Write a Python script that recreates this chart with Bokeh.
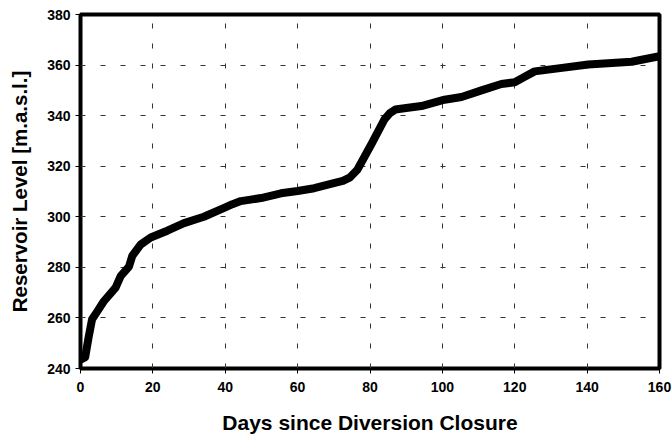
from bokeh.plotting import figure
from bokeh.models import Range1d, FixedTicker
from bokeh.embed import file_html
from bokeh.resources import INLINE

# Data
days = [0, 1.3, 2.2, 3.2, 4.6, 6.4, 9.7, 11.1, 13.4, 14.3, 16.6, 19.4, 24, 28.6,
        34.1, 39.7, 42, 44.3, 47, 49.9, 55.4, 60, 64.6, 70, 72.5, 74.5, 76.5, 80.3,
        84, 85.5, 87, 90, 94.2, 100.6, 105.3, 110.8, 116.3, 120, 122.5, 125.5, 132,
        140.3, 152.3, 160]
level = [243.5, 244.5, 252, 259.5, 262.5, 266.5, 272, 276.5, 280.3, 284.5, 289, 291.8,
         294.5, 297.5, 300, 303.5, 305.0, 306.2, 306.8, 307.4, 309.3, 310.2, 311.3,
         313.3, 314.2, 315.6, 318.6, 328.5, 338.5, 341.0, 342.4, 343.0, 343.8, 346.3,
         347.4, 350, 352.5, 353.2, 355.2, 357.5, 358.7, 360.2, 361.3, 363.5]
x_ticks = [0, 20, 40, 60, 80, 100, 120, 140, 160]
y_ticks = [240, 260, 280, 300, 320, 340, 360, 380]

FONT = "Liberation Sans"

p = figure(width=672, height=438, output_backend="svg", toolbar_location=None,
           x_range=Range1d(0, 160), y_range=Range1d(240, 380),
           min_border_left=80, min_border_top=14, min_border_right=13, min_border_bottom=70)

p.line(days, level, line_color="black", line_width=8, line_join="round", line_cap="round")

p.outline_line_color = "black"
p.outline_line_width = 4

for ax, ticks in ((p.xaxis, x_ticks), (p.yaxis, y_ticks)):
    ax.ticker = FixedTicker(ticks=ticks)
    ax.axis_line_color = None
    ax.major_tick_out = 5
    ax.major_tick_in = 0
    ax.major_tick_line_color = "black"
    ax.minor_tick_line_color = None
    ax.major_label_text_font = FONT
    ax.major_label_text_font_style = "bold"
    ax.major_label_text_font_size = "14px"
    ax.major_label_text_color = "black"
    ax.axis_label_text_font = FONT
    ax.axis_label_text_font_style = "bold"
    ax.axis_label_text_color = "black"

p.xaxis.major_label_standoff = 8
p.yaxis.major_label_standoff = 5

p.xaxis.axis_label = "Days since Diversion Closure"
p.xaxis.axis_label_text_font_size = "21px"
p.xaxis.axis_label_standoff = 16

p.yaxis.axis_label = "Reservoir Level [m.a.s.l.]"
p.yaxis.axis_label_text_font_size = "20.5px"
p.yaxis.axis_label_standoff = 13

for g in (p.xgrid, p.ygrid):
    g.grid_line_color = "#333333"
    g.grid_line_dash = "5 15"
    g.grid_line_width = 1

p.background_fill_color = "white"
p.border_fill_color = "white"

open("out.html", "w").write(file_html(p, INLINE))
